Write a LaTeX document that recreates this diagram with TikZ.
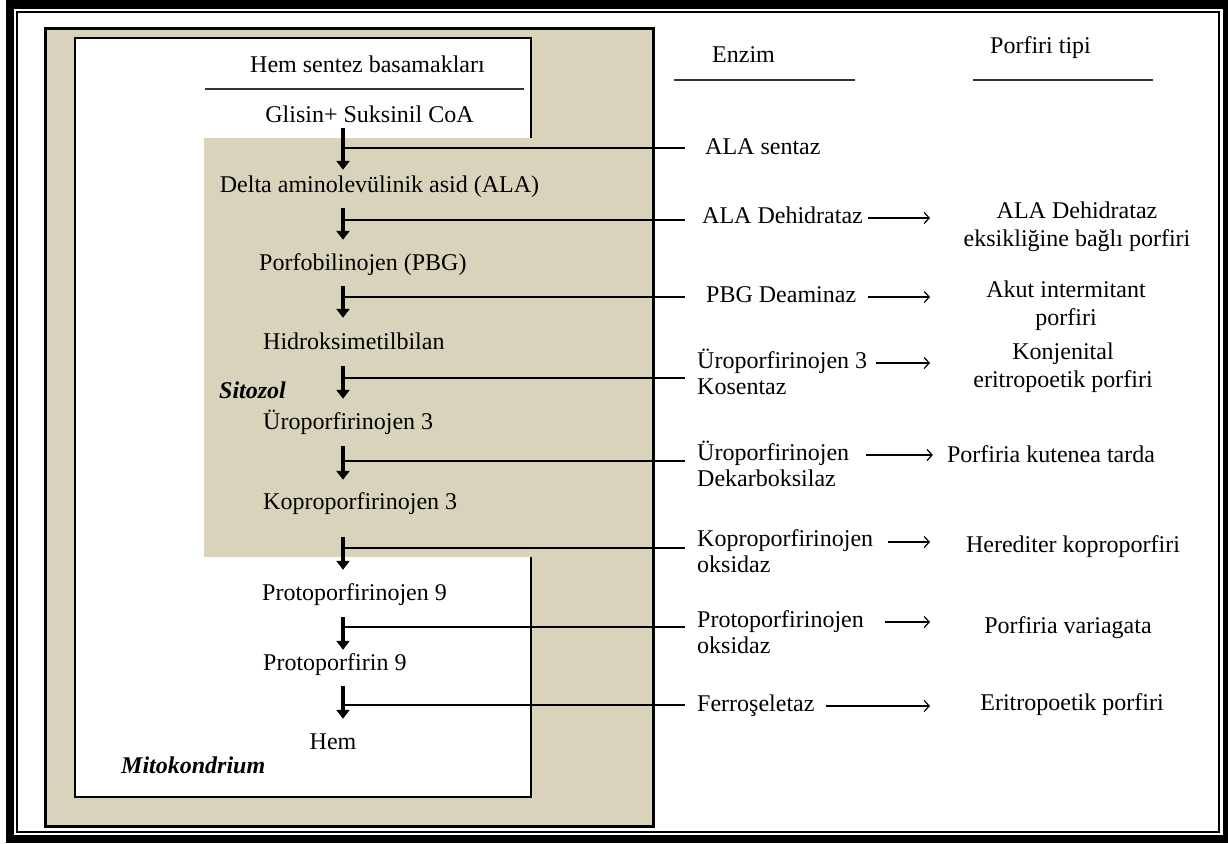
\documentclass[tikz,border=0pt]{standalone}
\usepackage{fontspec}
\setmainfont{Liberation Serif}
\usetikzlibrary{arrows.meta}
\definecolor{mitotan}{RGB}{216,211,186}
\begin{document}
\begin{tikzpicture}[x=1pt,y=-1pt,
  every node/.style={font=\fontsize{24}{26}\selectfont, inner sep=0pt},
  stepnode/.style={anchor=base, text height=17pt, text depth=6pt},
  stepw/.style={stepnode, anchor=base west},
  enz/.style={anchor=base west},
  por/.style={anchor=base},
  lbl/.style={anchor=base west, font=\fontsize{24}{26}\selectfont\bfseries\itshape},
  steparr/.style={line width=4.5pt, -{Triangle[width=13pt,length=9pt]}},
  conn/.style={line width=1.3pt},
  rarr/.style={line width=1.2pt, -{Straight Barb[length=5pt,width=11pt]}},
  uline/.style={line width=1.5pt, draw=black!80}
]
\useasboundingbox (0,0) rectangle (1228,843);
% outer frame
\fill[black] (6,0) rectangle (1228,843);
\fill[white] (14,9) rectangle (1223,835);
\draw[line width=2pt] (17,12) rectangle (1219,832);
% compartments
\draw[line width=3pt, fill=mitotan] (45,29) rectangle (653,826);
\draw[line width=2.5pt, fill=white] (75,38) rectangle (531,797);
\fill[mitotan] (204,138) rectangle (534,557);

% headers
\node[anchor=base west] (hdr) at (250,72) {Hem sentez basamakları};
\draw[uline] (205,89) -- (524,89);
\node[anchor=base west] (enzh) at (712,63) {Enzim};
\draw[uline] (674,80) -- (855,80);
\node[anchor=base west] (porh) at (990,53) {Porfiri tipi};
\draw[uline] (973,80) -- (1153,80);

% steps
\node[stepnode] (s0) at (369.5,122) {Glisin+ Suksinil CoA};
\node[stepnode] (s1) at (379.5,192) {Delta aminolevülinik asid (ALA)};
\node[stepw] (s2) at (259,270) {Porfobilinojen (PBG)};
\node[stepw] (s3) at (263,349) {Hidroksimetilbilan};
\node[stepw] (s4) at (263,429) {Üroporfirinojen 3};
\node[stepw] (s5) at (263,509) {Koproporfirinojen 3};
\node[stepw] (s6) at (262,600) {Protoporfirinojen 9};
\node[stepw] (s7) at (263,670) {Protoporfirin 9};
\node[stepnode] (s8) at (333,749) {Hem};

\node[lbl] (sito) at (219,398) {Sitozol};
\node[lbl] (mito) at (121,773) {Mitokondrium};

\coordinate (ax) at (343,0);
\draw[steparr, shorten <=0pt, shorten >=5pt] (s0.south -| ax) -- (s1.north -| ax);
\draw[steparr, shorten <=10pt, shorten >=13pt] (s1.south -| ax) -- (s2.north -| ax);
\draw[steparr, shorten <=10pt, shorten >=14pt] (s2.south -| ax) -- (s3.north -| ax);
\draw[steparr, shorten <=11pt, shorten >=13pt] (s3.south -| ax) -- (s4.north -| ax);
\draw[steparr, shorten <=11pt, shorten >=12pt] (s4.south -| ax) -- (s5.north -| ax);
\draw[steparr, shorten <=22pt, shorten >=13pt] (s5.south -| ax) -- (s6.north -| ax);
\draw[steparr, shorten <=11pt, shorten >=3pt] (s6.south -| ax) -- (s7.north -| ax);
\draw[steparr, shorten <=10pt, shorten >=13pt] (s7.south -| ax) -- (s8.north -| ax);

% enzymes
\node[enz] (e1) at (705,154) {ALA sentaz};
\node[enz] (e2) at (702,223) {ALA Dehidrataz};
\node[enz] (e3) at (706,302) {PBG Deaminaz};
\node[enz] (e4) at (697,368) {\begin{tabular}[t]{@{}l@{}}Üroporfirinojen 3\\Kosentaz\end{tabular}};
\node[enz] (e5) at (697,460) {\begin{tabular}[t]{@{}l@{}}Üroporfirinojen\\Dekarboksilaz\end{tabular}};
\node[enz] (e6) at (697,546) {\begin{tabular}[t]{@{}l@{}}Koproporfirinojen\\oksidaz\end{tabular}};
\node[enz] (e7) at (697,627) {\begin{tabular}[t]{@{}l@{}}Protoporfirinojen\\oksidaz\end{tabular}};
\node[enz] (e8) at (697,711) {Ferroşeletaz};

% connectors from pathway to enzymes
\coordinate (ex) at (685,0);
\coordinate (c1) at (343,148);
\coordinate (c2) at (343,220);
\coordinate (c3) at (343,297);
\coordinate (c4) at (343,378);
\coordinate (c5) at (343,461);
\coordinate (c6) at (343,548);
\coordinate (c7) at (343,627);
\coordinate (c8) at (343,705);
\draw[conn] (c1) -- (c1 -| ex);
\draw[conn] (c2) -- (c2 -| ex);
\draw[conn] (c3) -- (c3 -| ex);
\draw[conn] (c4) -- (c4 -| ex);
\draw[conn] (c5) -- (c5 -| ex);
\draw[conn] (c6) -- (c6 -| ex);
\draw[conn] (c7) -- (c7 -| ex);
\draw[conn] (c8) -- (c8 -| ex);

% porphyria types
\node[por] (p2) at (1077,218) {\begin{tabular}[t]{@{}c@{}}ALA Dehidrataz\\[2pt]eksikliğine bağlı porfiri\end{tabular}};
\node[por] (p3) at (1066,297) {\begin{tabular}[t]{@{}c@{}}Akut intermitant\\[2pt]porfiri\end{tabular}};
\node[por] (p4) at (1063,359) {\begin{tabular}[t]{@{}c@{}}Konjenital\\[2pt]eritropoetik porfiri\end{tabular}};
\node[por] (p5) at (1051,462) {Porfiria kutenea tarda};
\node[por] (p6) at (1073,552) {Herediter koproporfiri};
\node[por] (p7) at (1068,633) {Porfiria variagata};
\node[por] (p8) at (1072,710) {Eritropoetik porfiri};

% arrows enzyme -> porphyria
\coordinate (a2) at (868,218);
\coordinate (a3) at (868,297);
\coordinate (a4) at (876,363);
\coordinate (a5) at (866,455);
\coordinate (a6) at (888,542);
\coordinate (a7) at (885,622);
\coordinate (a8) at (826,706);
\coordinate (tx) at (930,0);
\draw[rarr] (a2) -- (a2 -| tx);
\draw[rarr] (a3) -- (a3 -| tx);
\draw[rarr] (a4) -- (a4 -| tx);
\draw[rarr] (a5) -- (a5 -| p5.west) [shorten >=14pt];
\draw[rarr] (a6) -- (a6 -| tx);
\draw[rarr] (a7) -- (a7 -| tx);
\draw[rarr] (a8) -- (a8 -| tx);
\end{tikzpicture}
\end{document}
